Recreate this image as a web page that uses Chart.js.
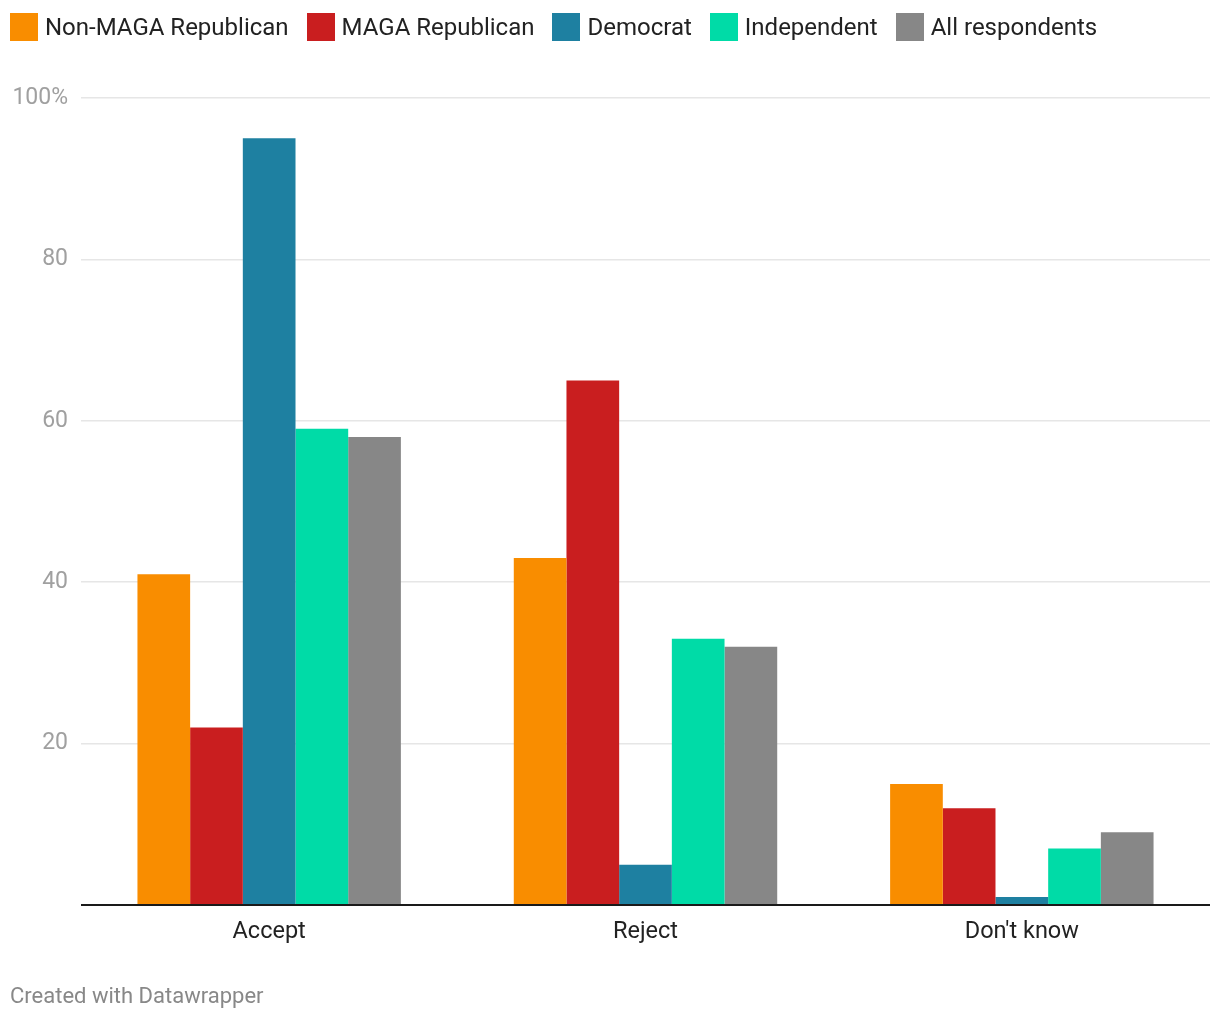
<!DOCTYPE html>
<html>
<head>
<meta charset="utf-8">
<script src="https://cdn.jsdelivr.net/npm/chart.js@4"></script>
<style>
    body { margin: 0; background: #fff; font-family: Roboto, sans-serif; }
    #wrap { position: relative; width: 1220px; height: 1020px; }
    #legend { position: absolute; left: 10px; top: 13px; display: flex; }
    .item { display: flex; align-items: center; margin-right: 18px; height: 28px; }
    .box { width: 28px; height: 28px; margin-right: 7px; }
    .label { font-size: 24px; color: #222; }
    #footer { position: absolute; left: 10px; top: 983px; font-size: 22px; color: #888; }
    canvas { position: absolute; left: 0; top: 0; }
</style>
</head>
<body>
<div id="wrap">
    <canvas id="chart" width="1220" height="1020"></canvas>
    <div id="legend"></div>
    <div id="footer">Created with Datawrapper</div>
</div>
<script>
const categories = ['Accept', 'Reject', "Don't know"];
const seriesNames = ['Non-MAGA Republican', 'MAGA Republican', 'Democrat', 'Independent', 'All respondents'];
const nonMagaRepublican = [41, 43, 15];
const magaRepublican = [22, 65, 12];
const democrat = [95, 5, 1];
const independent = [59, 33, 7];
const allRespondents = [58, 32, 9];
const yTicks = [0, 20, 40, 60, 80, 100];
const yTickLabels = ['', '20', '40', '60', '80', '100%'];

const colors = ['#f98d00', '#c91e1f', '#1e80a1', '#00dba7', '#878787'];
const values = [nonMagaRepublican, magaRepublican, democrat, independent, allRespondents];

// html legend, datawrapper style squares
const legend = document.getElementById('legend');
seriesNames.forEach((name, i) => {
    const item = document.createElement('div');
    item.className = 'item';
    item.innerHTML = `<div class="box" style="background:${colors[i]}"></div><span class="label">${name}</span>`;
    legend.appendChild(item);
});

new Chart(document.getElementById('chart'), {
    type: 'bar',
    data: {
        labels: categories,
        datasets: seriesNames.map((name, i) => ({
            label: name,
            data: values[i],
            backgroundColor: colors[i],
            borderWidth: 0,
            categoryPercentage: 0.7,
            barPercentage: 1.0,
        })),
    },
    options: {
        responsive: false,
        animation: false,
        events: [],
        layout: {
            padding: { top: 98, left: 0, right: 10, bottom: 65 },
        },
        plugins: {
            legend: { display: false },
            tooltip: { enabled: false },
        },
        scales: {
            x: {
                grid: { display: false },
                border: { display: false },
                ticks: {
                    color: '#222',
                    padding: 5,
                    font: { family: 'Roboto', size: 23.5 },
                },
                afterFit: (scale) => { scale.height = 50; },
            },
            y: {
                min: 0,
                max: 100,
                afterBuildTicks: (scale) => {
                    scale.ticks = yTicks.map((v) => ({ value: v }));
                },
                border: { display: false },
                grid: {
                    drawTicks: false,
                    color: (ctx) => (ctx.tick && ctx.tick.value === 0 ? '#1a1a1a' : '#e6e6e6'),
                    lineWidth: (ctx) => (ctx.tick && ctx.tick.value === 0 ? 2 : 1.5),
                },
                ticks: {
                    color: '#a0a0a0',
                    padding: 13,
                    font: { family: 'Roboto', size: 23 },
                    callback: (value) => yTickLabels[yTicks.indexOf(value)],
                },
                afterFit: (scale) => { scale.width = 81; },
            },
        },
    },
});
</script>
</body>
</html>
